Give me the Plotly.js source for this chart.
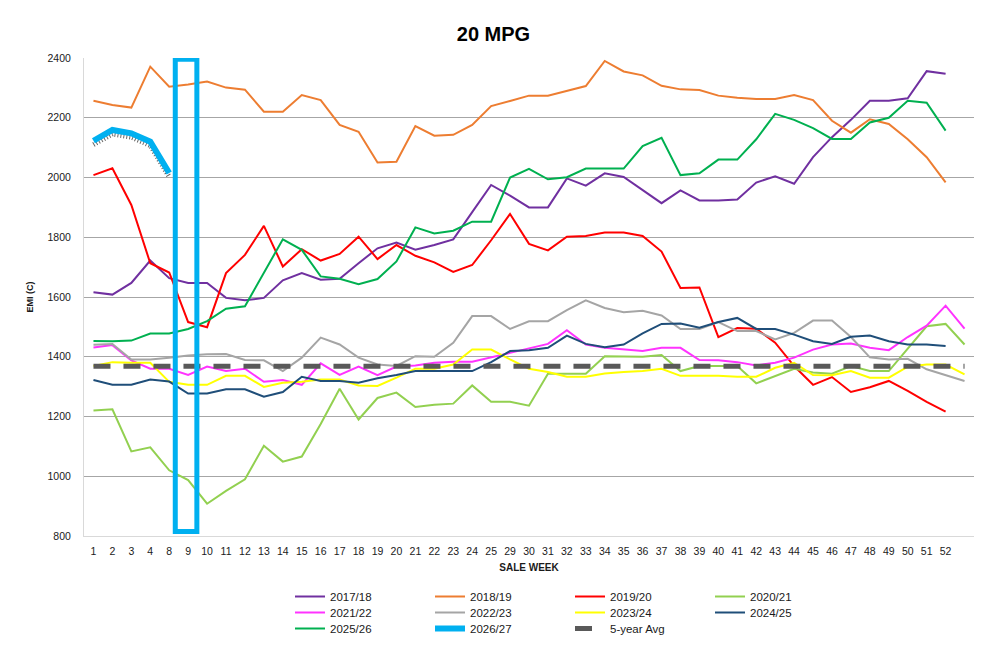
<!DOCTYPE html>
<html>
<head>
<meta charset="utf-8">
<script src="https://cdn.plot.ly/plotly-3.0.1.min.js"></script>
<style>
  html, body { margin: 0; padding: 0; background: #fff; }
  #chart { width: 987px; height: 648px; }
</style>
</head>
<body>
<div id="chart"></div>
<script>
// sale weeks shown on the x axis (last slot has no label)
var weekLabels = ['1','2','3','4','8','9','10','11','12','13','14','15','16','17','18','19','20','21','22','23','24','25',
  '29','30','31','32','33','34','35','36','37','38','39','40','41','42','43','44','45','46','47','48','49','50','51','52',''];

var s1718 = [1616,1608,1647,1722,1663,1647,1647,1597,1589,1597,1656,1680,1658,1661,1713,1763,1782,1758,1774,1793,1884,1975,
  1939,1900,1900,1997,1973,2014,2002,1958,1914,1957,1923,1923,1926,1983,2004,1979,2068,2135,2193,2257,2257,2265,2356,2347,null];
var s1819 = [2257,2243,2234,2371,2304,2311,2321,2301,2294,2220,2220,2276,2259,2176,2153,2050,2053,2172,2140,2143,2176,2239,
  2256,2274,2274,2291,2306,2390,2355,2342,2307,2295,2293,2274,2267,2263,2263,2276,2259,2190,2150,2195,2179,2128,2068,1984,null];
var s1920 = [2008,2031,1908,1713,1682,1516,1499,1680,1741,1838,1702,1760,1722,1744,1802,1727,1774,1738,1716,1684,1707,1790,
  1878,1778,1756,1802,1804,1816,1816,1804,1752,1630,1632,1466,1496,1494,1447,1369,1306,1332,1282,1298,1319,1286,1249,1216,null];
var s2021 = [1220,1224,1083,1097,1020,987,908,951,990,1102,1049,1066,1175,1293,1190,1262,1280,1232,1239,1243,1304,1249,
  1249,1236,1343,1344,1343,1402,1400,1400,1406,1352,1369,1369,1369,1311,1336,1360,1347,1343,1369,1352,1352,1426,1502,1510,1441];
var s2122 = [1431,1439,1388,1360,1360,1339,1367,1352,1360,1316,1322,1306,1378,1339,1367,1338,1367,1371,1380,1383,1383,1397,
  1413,1428,1443,1489,1441,1430,1424,1419,1430,1430,1389,1388,1382,1371,1380,1397,1424,1441,1444,1430,1422,1466,1504,1571,1494];
var s2223 = [1440,1443,1391,1391,1397,1404,1408,1409,1389,1388,1352,1397,1464,1441,1397,1374,1369,1402,1400,1447,1536,1536,
  1493,1519,1519,1556,1589,1563,1549,1554,1538,1493,1493,1516,1486,1486,1458,1480,1521,1521,1466,1398,1391,1393,1358,1338,1319];
var s2324 = [1369,1382,1380,1380,1316,1306,1306,1336,1336,1299,1313,1316,1324,1324,1304,1302,1330,1360,1360,1374,1424,1424,
  1391,1360,1349,1333,1333,1344,1349,1352,1360,1336,1336,1336,1333,1333,1363,1380,1339,1338,1352,1330,1330,1367,1374,1374,1341];
var s2425 = [1322,1306,1306,1324,1317,1277,1277,1291,1291,1266,1282,1333,1319,1319,1313,1328,1339,1352,1352,1352,1352,1382,
  1419,1422,1430,1471,1443,1432,1441,1478,1510,1511,1497,1516,1530,1493,1493,1474,1452,1443,1467,1471,1452,1441,1441,1436,null];
var s2526 = [1453,1452,1454,1478,1478,1493,1519,1561,1569,1682,1793,1758,1669,1661,1643,1660,1719,1833,1813,1822,1852,1852,
  2000,2029,1994,2001,2030,2030,2030,2105,2133,2008,2014,2060,2060,2128,2213,2193,2165,2129,2129,2184,2200,2257,2250,2157,null];
var s2627 = [2123,2159,2148,2120,2015];
var avg5 = [1368,1368,1368,1368,1368,1368,1368,1368,1368,1368,1368,1368,1368,1368,1368,1368,1368,1368,1368,1368,1368,1368,
  1368,1368,1368,1368,1368,1368,1368,1368,1368,1368,1368,1368,1368,1368,1368,1368,1368,1368,1368,1368,1368,1368,1368,1368,1368];

var seriesNames = ['2017/18','2018/19','2019/20','2020/21','2021/22','2022/23','2023/24','2024/25','2025/26'];
var seriesValues = [s1718, s1819, s1920, s2021, s2122, s2223, s2324, s2425, s2526];
var seriesColors = ['#7030A0','#ED7D31','#FF0000','#92D050','#FF33FF','#A5A5A5','#FFFF00','#1F4E79','#00B050'];

// highlighted week box (week 9)
var highlightWeek = 5;

var xPos = weekLabels.map(function(w, i){ return i; });
var yRange = [800, 2400];
var shadowShift = 13; // about 4px down

// legend rows, four entries per row like the original
function legendFor(n){
    return ['legend', 'legend2', 'legend3'][Math.floor(n / 4)];
}

var data = [];
for (let i = 0; i < seriesNames.length; i++){
    data.push({
        type: 'scatter', mode: 'lines', name: seriesNames[i],
        x: xPos, y: seriesValues[i],
        line: {color: seriesColors[i], width: 2},
        legend: legendFor(i), legendrank: i + 1
    });
}
data.push({
    type: 'scatter', mode: 'lines', name: '5-year Avg',
    x: xPos, y: avg5,
    line: {color: '#595959', width: 5, dash: '17px,13px'},
    legend: legendFor(10), legendrank: 11
});
// stippled shadow under the current season
data.push({
    type: 'scatter', mode: 'lines', name: 'shadow', showlegend: false,
    x: xPos.slice(0, s2627.length), y: s2627,
    xaxis: 'x2', yaxis: 'y2',
    line: {color: 'rgba(0,0,0,0.6)', width: 5, dash: '1px,2px'},
    hoverinfo: 'skip'
});
data.push({
    type: 'scatter', mode: 'lines', name: '2026/27',
    x: xPos.slice(0, s2627.length), y: s2627,
    xaxis: 'x3', yaxis: 'y3',
    line: {color: '#00B0F0', width: 6},
    legend: legendFor(9), legendrank: 10
});

var font = 'Liberation Sans, Arial, sans-serif';
var xr = [-0.5, weekLabels.length - 0.5];

function legendRow(yc){
    return {
        orientation: 'h', xref: 'container', yref: 'container',
        x: 290 / 987, xanchor: 'left', y: 1 - yc / 648, yanchor: 'middle',
        entrywidth: 95, entrywidthmode: 'pixels',
        font: {size: 11.5, color: '#1a1a1a'}, traceorder: 'normal',
        bgcolor: 'rgba(0,0,0,0)'
    };
}

var layout = {
    width: 987, height: 648,
    margin: {l: 84, r: 13, t: 58, b: 112},
    paper_bgcolor: '#fff', plot_bgcolor: '#fff',
    font: {family: font, color: '#1a1a1a'},
    showlegend: true,
    title: {
        text: '<b>20 MPG</b>', font: {size: 20, color: '#000', family: font},
        x: 0.5, xref: 'container', xanchor: 'center',
        y: 1 - 34 / 648, yref: 'container', yanchor: 'middle'
    },
    xaxis: {
        range: xr, tickmode: 'array', tickvals: xPos, ticktext: weekLabels,
        showgrid: false, zeroline: false, ticks: '',
        showline: true, linecolor: '#D9D9D9', linewidth: 1,
        tickfont: {size: 10.5, color: '#1a1a1a'}, ticklabelstandoff: 5,
        title: {text: '<b>SALE WEEK</b>', font: {size: 10, color: '#1a1a1a'}, standoff: 8}
    },
    yaxis: {
        range: yRange, dtick: 200, tick0: 800,
        showgrid: true, gridcolor: '#A6A6A6', gridwidth: 1, zeroline: false,
        showline: true, linecolor: '#D9D9D9', linewidth: 1, ticks: '',
        tickfont: {size: 10.5, color: '#1a1a1a'}, ticklabelstandoff: 10,
        title: {text: '<b>EMI (C)</b>', font: {size: 9, color: '#1a1a1a'}, standoff: 12}
    },
    xaxis2: {overlaying: 'x', range: xr, visible: false},
    yaxis2: {overlaying: 'y', range: [yRange[0] + shadowShift, yRange[1] + shadowShift], visible: false},
    xaxis3: {overlaying: 'x', range: xr, visible: false},
    yaxis3: {overlaying: 'y', range: yRange, visible: false},
    shapes: [{
        type: 'rect', xref: 'x', yref: 'y',
        x0: highlightWeek - 0.68, x1: highlightWeek + 0.46, y0: 815, y1: 2396,
        line: {color: '#00B0F0', width: 5}, fillcolor: 'rgba(0,0,0,0)', layer: 'above'
    }],
    legend: legendRow(596.5),
    legend2: legendRow(612.5),
    legend3: legendRow(628.5)
};

Plotly.newPlot('chart', data, layout, {displayModeBar: false, staticPlot: true});
</script>
</body>
</html>
